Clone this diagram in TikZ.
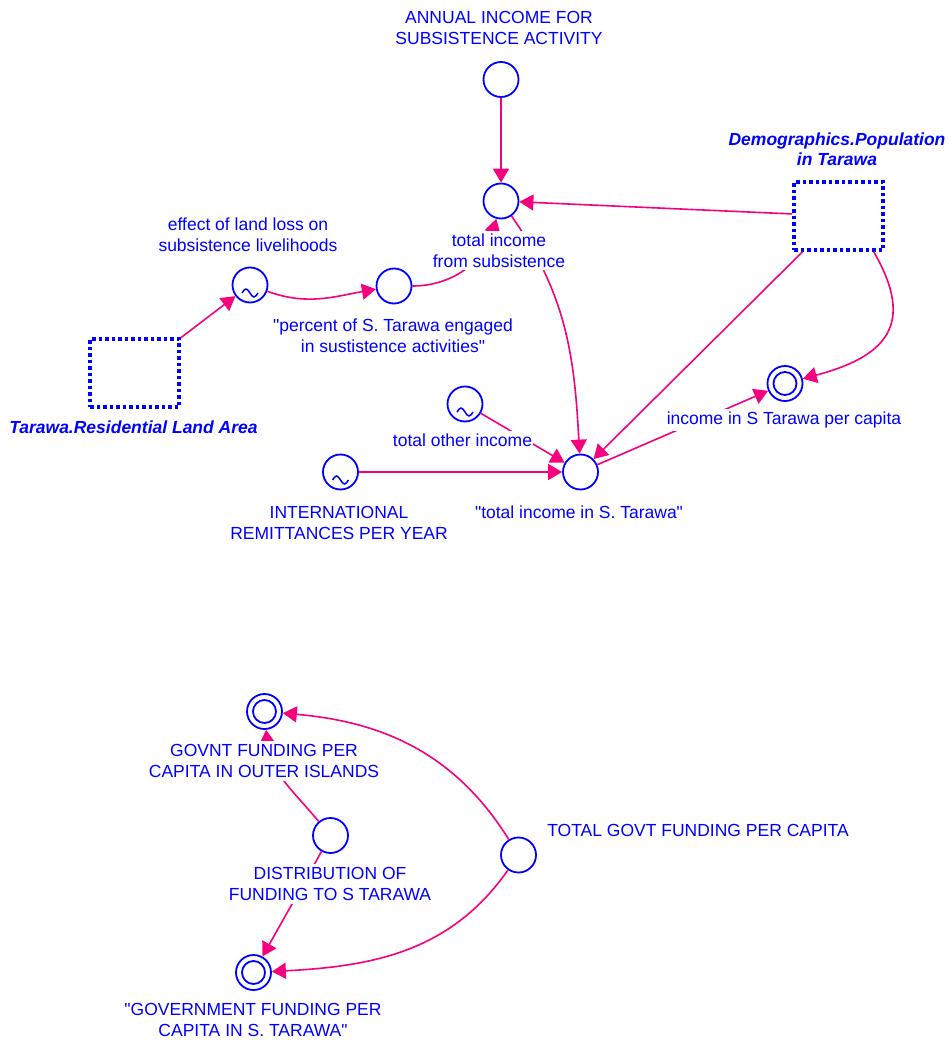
\documentclass[tikz,border=0pt]{standalone}
\usepackage{fontspec}
\setmainfont{Liberation Sans}[Ligatures=TeXOff]
\usetikzlibrary{arrows.meta}
\definecolor{lnk}{RGB}{245,0,125}
\definecolor{vblue}{RGB}{0,0,255}
\begin{document}
\begin{tikzpicture}[x=1pt,y=1pt,
  aux/.style={circle, draw=vblue, line width=1.8pt, minimum size=35pt, inner sep=0pt},
  dbl/.style={path picture={\draw[vblue,line width=1.8pt] (path picture bounding box.center) circle (11.5pt);}},
  tilde/.style={path picture={\draw[vblue,line width=1.5pt] ([shift={(-8pt,-8pt)}]path picture bounding box.center) sin ++(4pt,4pt) cos ++(4pt,-4pt) sin ++(4pt,-4pt) cos ++(4pt,4pt);}},
  ghost/.style={draw=vblue, line width=3.5pt, dash pattern=on 3.5pt off 3pt, minimum width=89pt, minimum height=68pt, inner sep=0pt},
  link/.style={draw=lnk, line width=1.6pt, -{Triangle[length=14pt,width=16pt]}},
  lbl/.style={text=vblue, fill=white, inner xsep=1pt, inner ysep=3pt, align=center, font=\fontsize{17.5}{21}\selectfont},
  blbl/.style={lbl, font=\fontsize{17.5}{20}\selectfont\bfseries\itshape}]
\useasboundingbox (0,0) rectangle (949,-1043);
% stocks/variables
\node[aux] (annual) at (501,-79.5) {};
\node[aux] (subs) at (501,-201) {};
\node[ghost] (demo) at (838.5,-216) {};
\node[aux,tilde] (effect) at (250,-285) {};
\node[aux] (percent) at (394,-286) {};
\node[ghost] (tarawa) at (134.5,-373) {};
\node[aux,tilde] (other) at (465,-404) {};
\node[aux,tilde] (intl) at (340.5,-472) {};
\node[aux] (tot) at (580.5,-472) {};
\node[aux,dbl] (pc) at (785,-383.5) {};
\node[aux,dbl] (outer) at (264.5,-711.5) {};
\node[aux] (dist) at (330.5,-835.5) {};
\node[aux] (govt) at (518.5,-855) {};
\node[aux,dbl] (stara) at (253.5,-972.5) {};
% connectors
\draw[link] (annual) -- (subs);
\draw[link] (demo) -- (subs);
\draw[link] (percent) to[out=0,in=-105] (subs);
\draw[link] (subs) to[out=-55,in=93] (tot);
\draw[link] (demo) -- (tot);
\draw[link] ([xshift=-11pt]demo.south east) to[out=-60,in=15,looseness=1.5] (pc);
\draw[link] (other) -- (tot);
\draw[link] (intl) -- (tot);
\draw[link] (tot) -- (pc);
\draw[link] (tarawa) -- (effect);
\draw[link] (effect) to[out=-20,in=190] (percent);
\draw[link] (govt) to[out=122,in=-5] (outer);
\draw[link] (govt) to[out=-125,in=3] (stara);
\draw[link] (dist) to[out=130,in=-85] (outer);
\draw[link] (dist) -- (stara);
% labels
\node[lbl] (annual-l) at (499,-28) {ANNUAL INCOME FOR\\SUBSISTENCE ACTIVITY};
\node[lbl] (subs-l) at (499,-250.5) {total income\\from subsistence};
\node[blbl] (demo-l) at (837,-149) {Demographics.Population\\in Tarawa};
\node[lbl] (effect-l) at (248,-235) {effect of land loss on\\subsistence livelihoods};
\node[lbl] (percent-l) at (393,-335.5) {"percent of S. Tarawa engaged\\in sustistence activities"};
\node[blbl] (tarawa-l) at (133.5,-427) {Tarawa.Residential Land Area};
\node[lbl] (other-l) at (462.5,-440) {total other income};
\node[lbl] (intl-l) at (339,-522.5) {INTERNATIONAL\\REMITTANCES PER YEAR};
\node[lbl] (tot-l) at (579,-512) {"total income in S. Tarawa"};
\node[lbl] (pc-l) at (784,-420) {income in S Tarawa per capita};
\node[lbl] (outer-l) at (264,-761) {GOVNT FUNDING PER\\CAPITA IN OUTER ISLANDS};
\node[lbl] (dist-l) at (330,-884) {DISTRIBUTION OF\\FUNDING TO S TARAWA};
\node[lbl] (govt-l) at (698,-830) {TOTAL GOVT FUNDING PER CAPITA};
\node[lbl] (stara-l) at (253,-1020) {"GOVERNMENT FUNDING PER\\CAPITA IN S. TARAWA"};
\end{tikzpicture}
\end{document}
